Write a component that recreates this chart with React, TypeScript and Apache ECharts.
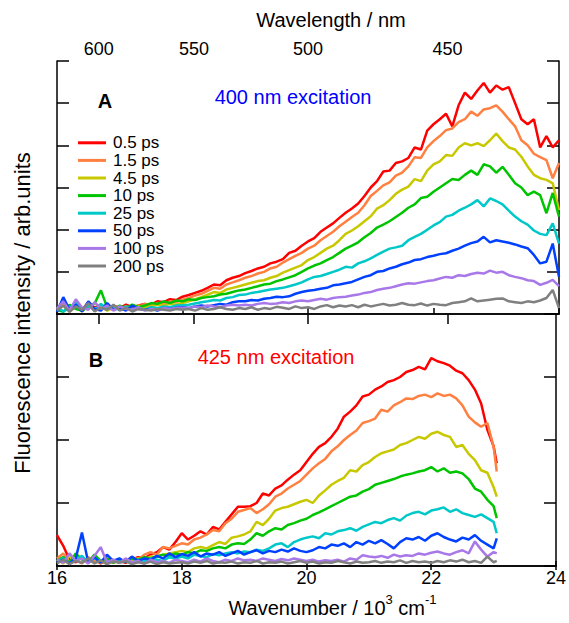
import React, { useEffect, useRef } from "react";
import * as echarts from "echarts";

// ---------- data ----------
const seriesLabels = ["0.5 ps", "1.5 ps", "4.5 ps", "10 ps", "25 ps", "50 ps", "100 ps", "200 ps"];
const seriesColors = ["#ff0000", "#ff8040", "#c8c800", "#00c400", "#00c8c8", "#0040ff", "#a878e8", "#808080"];

const wavelengthTicks = [600, 550, 500, 450]; // nm, top axis
const wavenumberTicks = [16, 18, 20, 22, 24]; // 10^3 cm^-1

// Panel A (400 nm excitation) wavenumber grid
const waveA = [
  16.0, 16.1, 16.2, 16.3, 16.4, 16.5, 16.6, 16.7, 16.8, 16.9,
  17.0, 17.1, 17.2, 17.3, 17.4, 17.5, 17.6, 17.7, 17.8, 17.9,
  18.0, 18.1, 18.2, 18.3, 18.4, 18.5, 18.6, 18.7, 18.8, 18.9,
  19.0, 19.1, 19.2, 19.3, 19.4, 19.5, 19.6, 19.7, 19.8, 19.9,
  20.0, 20.1, 20.2, 20.3, 20.4, 20.5, 20.6, 20.7, 20.8, 20.9,
  21.0, 21.1, 21.2, 21.3, 21.4, 21.5, 21.6, 21.7, 21.8, 21.9,
  22.0, 22.1, 22.2, 22.3, 22.4, 22.5, 22.6, 22.7, 22.8, 22.9,
  23.0, 23.1, 23.2, 23.3, 23.4, 23.5, 23.6, 23.7, 23.8, 23.9,
  24.0,
];

const a0_5ps = [
  0.12, 0.30, 0.08, 0.25, 0.10, 0.28, 0.15, 0.22, 0.12, 0.20,
  0.14, 0.22, 0.16, 0.20, 0.24, 0.22, 0.30, 0.28, 0.35, 0.33,
  0.41, 0.45, 0.50, 0.55, 0.62, 0.70, 0.68, 0.80, 0.86, 0.90,
  0.97, 1.02, 1.08, 1.12, 1.20, 1.24, 1.30, 1.45, 1.50, 1.62,
  1.72, 1.80, 1.95, 2.05, 2.15, 2.28, 2.40, 2.50, 2.62, 2.80,
  3.00, 3.15, 3.38, 3.40, 3.58, 3.62, 3.70, 3.95, 3.90, 4.35,
  4.50, 4.62, 4.75, 4.45, 4.95, 5.25, 5.10, 5.30, 5.48, 5.25,
  5.42, 5.32, 5.38, 5.00, 4.62, 4.50, 4.62, 3.95, 4.22, 3.95,
  4.12,
];
const a1_5ps = [
  0.10, 0.22, 0.06, 0.18, 0.12, 0.24, 0.08, 0.20, 0.14, 0.10,
  0.18, 0.12, 0.20, 0.16, 0.24, 0.20, 0.26, 0.24, 0.30, 0.28,
  0.34, 0.38, 0.44, 0.48, 0.55, 0.62, 0.60, 0.70, 0.75, 0.80,
  0.86, 0.90, 0.96, 1.00, 1.08, 1.12, 1.22, 1.30, 1.38, 1.45,
  1.55, 1.62, 1.75, 1.85, 1.95, 2.08, 2.19, 2.30, 2.40, 2.58,
  2.80, 2.92, 3.05, 3.12, 3.28, 3.35, 3.50, 3.72, 3.70, 3.95,
  4.10, 4.22, 4.36, 4.40, 4.55, 4.62, 4.80, 4.70, 4.85, 4.88,
  4.95, 4.80, 4.62, 4.45, 4.12, 4.00, 3.80, 3.72, 3.65, 3.22,
  3.58,
];
const a4_5ps = [
  0.08, 0.20, 0.10, 0.16, 0.06, 0.22, 0.12, 0.18, 0.08, 0.16,
  0.12, 0.18, 0.10, 0.20, 0.16, 0.18, 0.22, 0.20, 0.24, 0.22,
  0.26, 0.30, 0.35, 0.40, 0.46, 0.52, 0.50, 0.58, 0.62, 0.66,
  0.70, 0.74, 0.78, 0.80, 0.86, 0.90, 0.98, 1.04, 1.10, 1.16,
  1.28, 1.35, 1.45, 1.55, 1.62, 1.75, 1.90, 1.98, 2.08, 2.20,
  2.32, 2.50, 2.58, 2.70, 2.85, 2.95, 3.02, 3.20, 3.15, 3.40,
  3.55, 3.62, 3.77, 3.75, 3.95, 4.05, 4.00, 4.05, 3.98, 4.12,
  4.28, 4.10, 3.95, 3.90, 3.73, 3.50, 3.30, 3.22, 3.18, 3.10,
  2.46,
];
const a10ps = [
  0.10, 0.05, 0.22, 0.12, 0.08, 0.18, 0.25, 0.56, 0.15, 0.12,
  0.20, 0.14, 0.22, 0.16, 0.20, 0.26, 0.24, 0.30, 0.26, 0.32,
  0.30, 0.35, 0.33, 0.38, 0.40, 0.42, 0.46, 0.48, 0.52, 0.56,
  0.58, 0.62, 0.66, 0.70, 0.72, 0.78, 0.82, 0.87, 0.92, 1.00,
  1.08, 1.15, 1.20, 1.28, 1.35, 1.45, 1.55, 1.62, 1.70, 1.82,
  1.92, 2.05, 2.12, 2.20, 2.30, 2.40, 2.52, 2.60, 2.75, 2.78,
  2.90, 3.00, 3.10, 3.20, 3.18, 3.30, 3.40, 3.30, 3.55, 3.50,
  3.35, 3.49, 3.30, 3.10, 3.00, 2.82, 2.90, 2.82, 2.39, 2.87,
  2.31,
];
const a25ps = [
  0.18, 0.06, 0.14, 0.28, 0.10, 0.20, 0.08, 0.24, 0.12, 0.16,
  0.10, 0.18, 0.12, 0.14, 0.10, 0.16, 0.14, 0.18, 0.16, 0.20,
  0.21, 0.22, 0.25, 0.28, 0.30, 0.33, 0.32, 0.38, 0.40, 0.45,
  0.46, 0.50, 0.52, 0.55, 0.58, 0.60, 0.62, 0.66, 0.70, 0.75,
  0.82, 0.88, 0.90, 0.95, 1.00, 1.05, 1.12, 1.10, 1.20, 1.25,
  1.32, 1.40, 1.48, 1.55, 1.58, 1.62, 1.75, 1.83, 1.90, 2.00,
  2.10, 2.18, 2.31, 2.35, 2.45, 2.52, 2.60, 2.70, 2.55, 2.74,
  2.68, 2.60, 2.45, 2.31, 2.20, 2.12, 1.98, 1.90, 1.87, 2.15,
  1.67,
];
const a50ps = [
  0.05, 0.40, 0.10, 0.22, 0.06, 0.30, 0.12, 0.08, 0.26, 0.10,
  0.14, 0.08, 0.20, 0.12, 0.10, 0.12, 0.08, 0.14, 0.12, 0.15,
  0.16, 0.14, 0.18, 0.20, 0.18, 0.21, 0.24, 0.22, 0.28, 0.30,
  0.30, 0.33, 0.32, 0.36, 0.38, 0.41, 0.40, 0.42, 0.48, 0.52,
  0.55, 0.57, 0.60, 0.62, 0.68, 0.70, 0.73, 0.76, 0.82, 0.88,
  0.92, 1.00, 1.02, 1.08, 1.12, 1.18, 1.22, 1.28, 1.30, 1.35,
  1.38, 1.42, 1.44, 1.50, 1.55, 1.62, 1.68, 1.72, 1.83, 1.70,
  1.75, 1.72, 1.69, 1.65, 1.60, 1.56, 1.40, 1.20, 1.24, 1.67,
  0.88,
];
const a100ps = [
  0.12, 0.30, 0.08, 0.35, 0.15, 0.10, 0.28, 0.12, 0.20, 0.08,
  0.18, 0.12, 0.10, 0.16, 0.08, 0.12, 0.10, 0.14, 0.12, 0.14,
  0.15, 0.14, 0.18, 0.16, 0.20, 0.18, 0.16, 0.20, 0.22, 0.20,
  0.22, 0.20, 0.24, 0.26, 0.24, 0.25, 0.28, 0.26, 0.30, 0.32,
  0.30, 0.33, 0.36, 0.34, 0.38, 0.40, 0.41, 0.44, 0.46, 0.50,
  0.52, 0.57, 0.60, 0.62, 0.66, 0.70, 0.73, 0.72, 0.75, 0.78,
  0.80, 0.84, 0.88, 0.86, 0.92, 0.90, 0.95, 0.98, 0.96, 1.03,
  0.98, 1.00, 0.92, 0.88, 0.85, 0.80, 0.78, 0.69, 0.74, 0.81,
  0.66,
];
const a200ps = [
  0.08, 0.20, 0.05, 0.18, 0.10, 0.26, 0.06, 0.15, 0.10, 0.22,
  0.08, 0.15, 0.06, 0.12, 0.10, 0.08, 0.12, 0.10, 0.08, 0.12,
  0.10, 0.12, 0.08, 0.14, 0.10, 0.12, 0.16, 0.12, 0.10, 0.14,
  0.12, 0.16, 0.10, 0.14, 0.12, 0.17, 0.15, 0.12, 0.18, 0.14,
  0.16, 0.12, 0.18, 0.21, 0.16, 0.20, 0.18, 0.21, 0.16, 0.22,
  0.18, 0.21, 0.24, 0.20, 0.22, 0.26, 0.22, 0.21, 0.25, 0.20,
  0.24, 0.22, 0.21, 0.26, 0.28, 0.30, 0.37, 0.30, 0.32, 0.34,
  0.36, 0.37, 0.30, 0.28, 0.26, 0.30, 0.28, 0.32, 0.38, 0.57,
  0.14,
];

// Panel B (425 nm excitation) wavenumber grid
const waveB = [
  16.0, 16.1, 16.2, 16.3, 16.4, 16.5, 16.6, 16.7, 16.8, 16.9,
  17.0, 17.1, 17.2, 17.3, 17.4, 17.5, 17.6, 17.7, 17.8, 17.9,
  18.0, 18.1, 18.2, 18.3, 18.4, 18.5, 18.6, 18.7, 18.8, 18.9,
  19.0, 19.1, 19.2, 19.3, 19.4, 19.5, 19.6, 19.7, 19.8, 19.9,
  20.0, 20.1, 20.2, 20.3, 20.4, 20.5, 20.6, 20.7, 20.8, 20.9,
  21.0, 21.1, 21.2, 21.3, 21.4, 21.5, 21.6, 21.7, 21.8, 21.9,
  22.0, 22.1, 22.2, 22.3, 22.4, 22.5, 22.6, 22.7, 22.8, 22.9,
  23.0, 23.05,
];

const b0_5ps = [
  0.49, 0.32, 0.10, 0.06, 0.15, 0.05, 0.12, 0.04, 0.10, 0.06,
  0.08, 0.05, 0.10, 0.14, 0.12, 0.18, 0.22, 0.30, 0.26, 0.38,
  0.52, 0.42, 0.48, 0.55, 0.50, 0.62, 0.58, 0.70, 0.82, 0.94,
  0.94, 0.95, 1.00, 1.15, 1.12, 1.23, 1.28, 1.37, 1.45, 1.52,
  1.65, 1.78, 1.89, 1.95, 2.05, 2.18, 2.37, 2.45, 2.55, 2.69,
  2.72, 2.80, 2.85, 2.92, 2.95, 3.00, 3.08, 3.11, 3.16, 3.12,
  3.30, 3.25, 3.22, 3.18, 3.10, 3.06, 2.95, 2.80, 2.58, 2.16,
  1.90, 1.63,
];
const b1_5ps = [
  0.12, 0.20, 0.06, 0.10, 0.04, 0.14, 0.08, 0.05, 0.12, 0.06,
  0.10, 0.08, 0.14, 0.10, 0.18, 0.22, 0.18, 0.30, 0.28, 0.32,
  0.36, 0.34, 0.42, 0.45, 0.50, 0.57, 0.55, 0.68, 0.75, 0.86,
  0.89, 0.92, 0.84, 0.90, 0.98, 1.10, 1.15, 1.23, 1.29, 1.35,
  1.45, 1.55, 1.63, 1.70, 1.82, 1.90, 2.00, 2.08, 2.15, 2.27,
  2.30, 2.34, 2.48, 2.45, 2.55, 2.60, 2.66, 2.65, 2.70, 2.72,
  2.68, 2.74, 2.70, 2.72, 2.66, 2.55, 2.37, 2.28, 2.21, 2.27,
  1.89, 1.50,
];
const b4_5ps = [
  0.10, 0.04, 0.16, 0.08, 0.12, 0.06, 0.14, 0.05, 0.10, 0.08,
  0.06, 0.10, 0.08, 0.12, 0.10, 0.15, 0.14, 0.18, 0.20, 0.22,
  0.24, 0.22, 0.28, 0.30, 0.28, 0.33, 0.38, 0.35, 0.45, 0.47,
  0.50, 0.55, 0.70, 0.65, 0.75, 0.88, 0.92, 0.94, 0.98, 1.02,
  1.05, 1.00, 1.12, 1.20, 1.29, 1.35, 1.40, 1.52, 1.50, 1.60,
  1.65, 1.73, 1.79, 1.82, 1.85, 1.92, 1.95, 2.00, 2.05, 2.02,
  2.10, 2.13, 2.08, 2.05, 1.89, 1.92, 1.78, 1.68, 1.52, 1.48,
  1.25, 1.10,
];
const b10ps = [
  0.08, 0.14, 0.05, 0.20, 0.10, 0.06, 0.18, 0.08, 0.12, 0.05,
  0.10, 0.06, 0.12, 0.10, 0.14, 0.12, 0.15, 0.18, 0.16, 0.20,
  0.18, 0.22, 0.20, 0.25, 0.24, 0.28, 0.30, 0.28, 0.34, 0.36,
  0.35, 0.42, 0.52, 0.48, 0.55, 0.60, 0.58, 0.65, 0.68, 0.72,
  0.75, 0.81, 0.85, 0.90, 0.95, 1.00, 1.05, 1.10, 1.12, 1.18,
  1.22, 1.29, 1.32, 1.35, 1.38, 1.42, 1.45, 1.47, 1.50, 1.52,
  1.57, 1.50, 1.55, 1.48, 1.50, 1.47, 1.38, 1.23, 1.18, 1.05,
  0.95, 0.76,
];
const b25ps = [
  0.06, 0.12, 0.04, 0.10, 0.16, 0.05, 0.12, 0.08, 0.04, 0.10,
  0.06, 0.08, 0.05, 0.10, 0.08, 0.12, 0.10, 0.08, 0.14, 0.12,
  0.15, 0.12, 0.18, 0.16, 0.14, 0.19, 0.17, 0.20, 0.22, 0.20,
  0.23, 0.22, 0.26, 0.24, 0.28, 0.34, 0.36, 0.30, 0.38, 0.42,
  0.45, 0.47, 0.44, 0.52, 0.50, 0.55, 0.57, 0.60, 0.56, 0.62,
  0.66, 0.70, 0.68, 0.73, 0.76, 0.72, 0.80, 0.84, 0.86, 0.82,
  0.88, 0.90, 0.93, 0.86, 0.90, 0.84, 0.81, 0.78, 0.82, 0.76,
  0.70, 0.52,
];
const b50ps = [
  0.05, 0.10, 0.04, 0.12, 0.53, 0.06, 0.14, 0.05, 0.18, 0.08,
  0.12, 0.06, 0.15, 0.08, 0.12, 0.10, 0.16, 0.12, 0.20, 0.14,
  0.19, 0.16, 0.22, 0.15, 0.20, 0.18, 0.22, 0.16, 0.20, 0.24,
  0.18, 0.22, 0.25, 0.20, 0.24, 0.22, 0.26, 0.23, 0.28, 0.24,
  0.22, 0.25, 0.30, 0.28, 0.34, 0.32, 0.36, 0.30, 0.38, 0.34,
  0.40, 0.36, 0.41, 0.35, 0.28, 0.38, 0.44, 0.42, 0.46, 0.40,
  0.48, 0.52, 0.46, 0.42, 0.39, 0.45, 0.42, 0.49, 0.40, 0.34,
  0.28, 0.44,
];
const b100ps = [
  0.10, 0.05, 0.20, 0.08, 0.12, 0.04, 0.16, 0.30, 0.06, 0.10,
  0.05, 0.12, 0.06, 0.08, 0.04, 0.10, 0.06, 0.08, 0.05, 0.10,
  0.08, 0.06, 0.10, 0.07, 0.12, 0.08, 0.06, 0.10, 0.08, 0.12,
  0.09, 0.10, 0.08, 0.12, 0.10, 0.08, 0.11, 0.09, 0.12, 0.10,
  0.08, 0.10, 0.07, 0.09, 0.08, 0.10, 0.07, 0.12, 0.10, 0.17,
  0.15, 0.14, 0.16, 0.13, 0.18, 0.15, 0.17, 0.16, 0.20, 0.18,
  0.21, 0.23, 0.20, 0.18, 0.22, 0.25, 0.20, 0.39, 0.26, 0.15,
  0.22, 0.20,
];
const b200ps = [
  0.04, 0.10, 0.03, 0.08, 0.05, 0.12, 0.04, 0.09, 0.03, 0.07,
  0.05, 0.08, 0.03, 0.06, 0.04, 0.07, 0.03, 0.06, 0.04, 0.05,
  0.06, 0.04, 0.07, 0.05, 0.08, 0.04, 0.06, 0.05, 0.07, 0.04,
  0.06, 0.05, 0.08, 0.04, 0.06, 0.05, 0.07, 0.04, 0.06, 0.08,
  0.05, 0.07, 0.04, 0.06, 0.05, 0.08, 0.06, 0.04, 0.07, 0.05,
  0.06, 0.08, 0.05, 0.07, 0.06, 0.09, 0.05, 0.08, 0.06, 0.07,
  0.05, 0.08, 0.06, 0.09, 0.07, 0.10, 0.06, 0.08, 0.05, 0.15,
  0.06, 0.08,
];

const panelAValues = [a0_5ps, a1_5ps, a4_5ps, a10ps, a25ps, a50ps, a100ps, a200ps];
const panelBValues = [b0_5ps, b1_5ps, b4_5ps, b10ps, b25ps, b50ps, b100ps, b200ps];

// ---------- chart ----------
const FONT = '"Liberation Sans", Arial, Helvetica, sans-serif';
const AXIS_COLOR = "#000";

export default function App() {
  const ref = useRef<HTMLDivElement>(null);

  useEffect(() => {
    if (!ref.current) return;
    const chart = echarts.init(ref.current, undefined, { renderer: "svg" });

    const wlPositions = wavelengthTicks.map((nm) => 10000 / nm);

    const axisLine = { show: true, lineStyle: { color: AXIS_COLOR, width: 1.5 } };

    const mkSeries = (values: number[][], waves: number[], xi: number, yi: number) =>
      seriesLabels.map((name, k) => ({
        type: "line",
        name,
        xAxisIndex: xi,
        yAxisIndex: yi,
        data: waves.map((w, i) => [w, values[k][i]]),
        symbol: "none",
        showSymbol: false,
        clip: true,
        lineStyle: { width: 2.5, color: seriesColors[k] },
        itemStyle: { color: seriesColors[k] },
        emphasis: { disabled: true },
        z: 2 + k,
      }));

    const option: any = {
      animation: false,
      backgroundColor: "#fff",
      textStyle: { fontFamily: FONT },
      grid: [
        { left: 57, top: 61, width: 502, height: 253 },
        { left: 57, top: 314, width: 502, height: 252 },
      ],
      xAxis: [
        {
          type: "value", gridIndex: 0, position: "bottom", min: 16, max: 24, interval: 2,
          axisLine, axisTick: { inside: true, length: 6, lineStyle: { color: AXIS_COLOR, width: 1.5 } },
          axisLabel: { show: false }, splitLine: { show: false },
        },
        {
          type: "value", gridIndex: 0, position: "top", min: 16, max: 24,
          axisLine,
          axisTick: { inside: true, length: 10, customValues: wlPositions, lineStyle: { color: AXIS_COLOR, width: 1.5 } },
          axisLabel: {
            customValues: wlPositions, margin: 3, fontSize: 18, color: "#000", fontFamily: FONT,
            formatter: (v: number) => String(Math.round(10000 / v)),
          },
          splitLine: { show: false },
          name: "Wavelength / nm", nameLocation: "middle", nameGap: 31,
          nameTextStyle: { fontSize: 20, color: "#000", fontFamily: FONT, padding: [0, 0, 0, 46] },
        },
        {
          type: "value", gridIndex: 1, position: "bottom", min: 16, max: 24, interval: 2,
          axisLine, axisTick: { inside: true, length: 5, lineStyle: { color: AXIS_COLOR, width: 1.5 } },
          axisLabel: {
            customValues: wavenumberTicks, margin: 3, fontSize: 18, color: "#000", fontFamily: FONT,
          },
          splitLine: { show: false },
          name: "{t|Wavenumber / 10}{s|3}{t| cm}{s|-1}", nameLocation: "middle", nameGap: 27,
          nameTextStyle: {
            padding: [0, 0, 0, 52],
            rich: {
              t: { fontSize: 20, color: "#000", fontFamily: FONT },
              s: { fontSize: 13, color: "#000", fontFamily: FONT, padding: [0, 0, 16, 0] },
            },
          },
        },
        {
          type: "value", gridIndex: 1, position: "top", min: 16, max: 24, interval: 2,
          axisLine, axisTick: { inside: true, length: 4, lineStyle: { color: AXIS_COLOR, width: 1.5 } },
          axisLabel: { show: false }, splitLine: { show: false },
        },
      ],
      yAxis: [
        {
          type: "value", gridIndex: 0, position: "left", min: 0, max: 6, interval: 1,
          axisLine, axisTick: { inside: true, length: 12, lineStyle: { color: AXIS_COLOR, width: 1.5 } },
          axisLabel: { show: false }, splitLine: { show: false },
        },
        {
          type: "value", gridIndex: 0, position: "right", min: 0, max: 6, interval: 1,
          axisLine, axisTick: { inside: true, length: 12, lineStyle: { color: AXIS_COLOR, width: 1.5 } },
          axisLabel: { show: false }, splitLine: { show: false },
        },
        {
          type: "value", gridIndex: 1, position: "left", min: 0, max: 4, interval: 1,
          axisLine, axisTick: { inside: true, length: 12, lineStyle: { color: AXIS_COLOR, width: 1.5 } },
          axisLabel: { show: false }, splitLine: { show: false },
        },
        {
          type: "value", gridIndex: 1, position: "right", min: 0, max: 4, interval: 1,
          axisLine, axisTick: { inside: true, length: 12, lineStyle: { color: AXIS_COLOR, width: 1.5 } },
          axisLabel: { show: false }, splitLine: { show: false },
        },
      ],
      legend: {
        data: seriesLabels,
        orient: "vertical",
        left: 73,
        top: 129,
        itemWidth: 28,
        itemHeight: 3,
        itemGap: 0,
        icon: "rect",
        selectedMode: false,
        textStyle: { fontSize: 17, lineHeight: 17.6, color: "#000", fontFamily: FONT, padding: [0, 0, 0, 2] },
      },
      graphic: [
        {
          type: "text", x: 105, y: 101,
          style: { text: "A", font: `bold 20px ${FONT}`, fill: "#000", textAlign: "center", textVerticalAlign: "middle" },
        },
        {
          type: "text", x: 96, y: 360,
          style: { text: "B", font: `bold 20px ${FONT}`, fill: "#000", textAlign: "center", textVerticalAlign: "middle" },
        },
        {
          type: "text", x: 293, y: 97,
          style: { text: "400 nm excitation", font: `20px ${FONT}`, fill: "#0000ff", textAlign: "center", textVerticalAlign: "middle" },
        },
        {
          type: "text", x: 276, y: 357,
          style: { text: "425 nm excitation", font: `20px ${FONT}`, fill: "#ff0000", textAlign: "center", textVerticalAlign: "middle" },
        },
        {
          type: "text", x: 22, y: 313, rotation: Math.PI / 2,
          style: {
            text: "Fluorescence intensity / arb.units", font: `22px ${FONT}`, fill: "#000",
            textAlign: "center", textVerticalAlign: "middle",
          },
        },
      ],
      series: [...mkSeries(panelAValues, waveA, 0, 0), ...mkSeries(panelBValues, waveB, 2, 2)],
    };

    chart.setOption(option);
    return () => chart.dispose();
  }, []);

  return (
    <div
      ref={ref}
      style={{ position: "fixed", left: 0, top: 0, width: 569, height: 623, background: "#fff" }}
    />
  );
}
